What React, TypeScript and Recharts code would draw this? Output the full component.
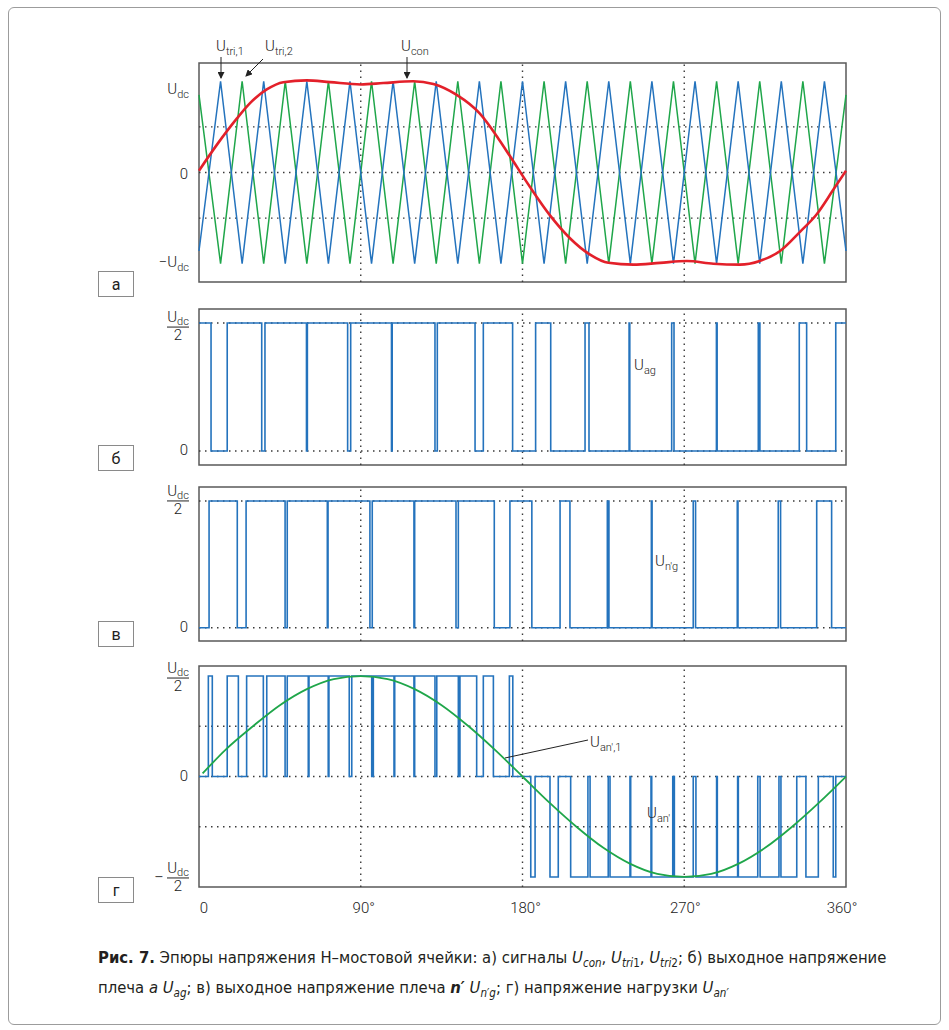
import React from 'react';
import { LineChart, Line, XAxis, YAxis, ReferenceLine, ReferenceArea } from 'recharts';

// x axis, degrees
const angleTicks = [0, 90, 180, 270, 360];
const angleLabels = ['0', '90°', '180°', '270°', '360°'];
const gridAngles = [90, 180, 270];

// panel a: carriers (vertices) and control signal
const triAngles = [0, 12, 24, 36, 48, 60, 72, 84, 96, 108, 120, 132, 144, 156, 168, 180, 192, 204, 216, 228, 240, 252, 264, 276, 288, 300, 312, 324, 336, 348, 360];
const uTri1 = [-0.86, 1, -1, 1, -1, 1, -1, 1, -1, 1, -1, 1, -1, 1, -1, 1, -1, 1, -1, 1, -1, 1, -1, 1, -1, 1, -1, 1, -1, 1, -0.86];
const uTri2 = [0.85, -1, 1, -1, 1, -1, 1, -1, 1, -1, 1, -1, 1, -1, 1, -1, 1, -1, 1, -1, 1, -1, 1, -1, 1, -1, 1, -1, 1, -1, 0.85];
const conAngles = [0, 9.8, 21, 28.4, 37.7, 46.9, 59.9, 72.9, 90, 102.5, 119.2, 130.4, 143.4, 156.3, 167, 173, 184.2, 195.3, 206.4, 217.6, 227.8, 241.7, 256.5, 271.4, 286.2, 301, 312, 323.3, 334.4, 343.6, 352.9, 360];
const uCon = [0.02, 0.3, 0.59, 0.76, 0.91, 0.99, 1.01, 0.99, 0.965, 0.98, 1.0, 0.97, 0.85, 0.645, 0.36, 0.18, -0.16, -0.47, -0.72, -0.9, -0.99, -1.01, -0.99, -0.97, -1.0, -1.01, -0.97, -0.86, -0.65, -0.46, -0.19, 0.02];

// panel б: U_ag switching edges (units of Udc/2)
const agEdges = [0, 6.7, 15.7, 34.9, 36.7, 59.8, 60.3, 82.7, 84.4, 107.1, 107.5, 131.3, 132.6, 153.6, 158.2, 174.5, 187.3, 195.7, 214.8, 217.0, 239.3, 239.7, 263.0, 264.3, 287.9, 288.3, 311.2, 312.1, 334.0, 338.1, 354.3, 360];
const agLevels = [1, 0, 1, 0, 1, 0, 1, 0, 1, 0, 1, 0, 1, 0, 1, 0, 1, 0, 1, 0, 1, 0, 1, 0, 1, 0, 1, 0, 1, 0, 1, 1];

// panel в: U_n'g
const ngEdges = [0, 5.6, 21.3, 26.2, 47.9, 49.1, 71.4, 71.8, 95.1, 96.4, 119.6, 120.0, 143.0, 144.3, 164.3, 173.0, 185.2, 200.9, 206.4, 227.2, 228.1, 251.7, 252.1, 275.0, 276.3, 299.5, 299.9, 322.3, 323.6, 343.7, 352.0, 360];
const ngLevels = [0, 1, 0, 1, 0, 1, 0, 1, 0, 1, 0, 1, 0, 1, 0, 1, 0, 1, 0, 1, 0, 1, 0, 1, 0, 1, 0, 1, 0, 1, 0, 0];

// panel г: U_an' and its fundamental
const anEdges = [0, 5.2, 7.4, 15.7, 21.9, 26.5, 35.8, 37.7, 47.9, 49.1, 60.8, 61.2, 71.9, 72.3, 83.6, 85.0, 96.1, 97.0, 108.5, 108.9, 119.6, 120.0, 131.3, 132.3, 144.3, 145.2, 154.5, 158.2, 163.8, 172.7, 174.6,
  184.6, 187.0, 195.3, 199.9, 206.8, 216.4, 217.6, 227.7, 228.7, 239.8, 240.2, 251.5, 251.9, 263.6, 264.5, 275.0, 276.5, 288.0, 288.4, 299.7, 300.1, 310.9, 312.2, 322.7, 323.8, 332.6, 337.7, 344.6, 352.9, 354.3, 360];
const anLevels = [0, 1, 0, 1, 0, 1, 0, 1, 0, 1, 0, 1, 0, 1, 0, 1, 0, 1, 0, 1, 0, 1, 0, 1, 0, 1, 0, 1, 0, 1, 0,
  -1, 0, -1, 0, -1, 0, -1, 0, -1, 0, -1, 0, -1, 0, -1, 0, -1, 0, -1, 0, -1, 0, -1, 0, -1, 0, -1, 0, -1, 0, 0];
const an1Angles = [2, 15, 30, 45, 60, 75, 90, 105, 120, 135, 150, 165, 180, 195, 210, 225, 240, 255, 270, 285, 300, 315, 330, 345, 360];
const uAn1 = [0.03, 0.27, 0.5, 0.71, 0.87, 0.97, 1.0, 0.97, 0.87, 0.71, 0.5, 0.26, 0.0, -0.26, -0.5, -0.71, -0.87, -0.97, -1.0, -0.97, -0.87, -0.71, -0.5, -0.26, 0.0];

const toPoints = (xs: number[], ys: number[]) => xs.map((a, i) => ({ a, v: ys[i] }));

const BLUE = '#2473bd';
const GREEN = '#1fa64a';
const RED = '#e3202a';
const GRID = '#3a3a3a';
const FONT = 'Roboto, "Liberation Sans", Arial, sans-serif';
const lbl: React.CSSProperties = { fontFamily: FONT, fontSize: 15, fontWeight: 300, fill: '#222' };

const PLOT_LEFT = 199;
const PLOT_W = 647;
const AXIS_W = 60;
const M_TOP = 16;
const M_RIGHT = 14;

// y tick renderers (chart x 50 == page x 189)
const TickA = ({ y, payload }: any) => {
  const v = payload.value;
  if (v === 0) return <text x={49} y={y + 6} textAnchor="end" style={lbl}>0</text>;
  return (
    <text x={50} y={v > 0 ? y + 13 : y + 3} textAnchor="end" style={lbl}>
      {v < 0 ? '−' : ''}U<tspan fontSize={11} dy={4}>dc</tspan>
    </text>
  );
};

const Fraction = ({ y, lineDy, neg }: { y: number; lineDy: number; neg?: boolean }) => {
  const ly = y + lineDy;
  return (
    <g>
      {neg && <text x={25} y={ly + 5} textAnchor="end" style={{ ...lbl, fontSize: 17 }}>−</text>}
      <text x={39} y={ly - 5} textAnchor="middle" style={lbl}>
        U<tspan fontSize={11} dy={3}>dc</tspan>
      </text>
      <line x1={28} x2={50} y1={ly} y2={ly} stroke="#222" strokeWidth={1} />
      <text x={39} y={ly + 13} textAnchor="middle" style={lbl}>2</text>
    </g>
  );
};

const makeHalfTick = (lineDy: number) => ({ y, payload }: any) => {
  if (payload.value === 0) return <text x={49} y={y + 4} textAnchor="end" style={lbl}>0</text>;
  return <Fraction y={y} lineDy={lineDy} />;
};

const TickG = ({ y, payload }: any) => {
  const v = payload.value;
  if (v === 0) return <text x={49} y={y + 4} textAnchor="end" style={lbl}>0</text>;
  return <Fraction y={y} lineDy={v > 0 ? 2 : 1} neg={v < 0} />;
};

const makeXTick = (baseY: number) => ({ x, payload }: any) => {
  const i = angleTicks.indexOf(payload.value);
  const dx = [5, 3, 3, 1, -4][i];
  return <text x={x + dx} y={baseY} textAnchor="middle" style={lbl}>{angleLabels[i]}</text>;
};

interface PanelProps {
  top: number;
  height: number;
  domain: [number, number];
  hLines: number[];
  yTicks: number[];
  tick: any;
  showX?: boolean;
  children?: React.ReactNode;
}

const Panel: React.FC<PanelProps> = ({ top, height, domain, hLines, yTicks, tick, showX = false, children }) => {
  const xh = showX ? 32 : 0;
  return (
    <div style={{ position: 'absolute', left: PLOT_LEFT - AXIS_W, top: top - M_TOP }}>
      <LineChart
        width={AXIS_W + PLOT_W + M_RIGHT}
        height={height + M_TOP + 2 + xh}
        margin={{ top: M_TOP, right: M_RIGHT, bottom: 2, left: 0 }}
      >
        <XAxis
          type="number"
          dataKey="a"
          domain={[0, 360]}
          ticks={angleTicks}
          interval={0}
          hide={!showX}
          height={xh}
          axisLine={false}
          tickLine={false}
          tick={makeXTick(M_TOP + height + 26)}
        />
        <YAxis
          type="number"
          domain={domain}
          ticks={yTicks}
          interval={0}
          width={AXIS_W}
          axisLine={false}
          tickLine={false}
          tick={tick}
        />
        {hLines.map((v) => (
          <ReferenceLine key={'h' + v} y={v} stroke={GRID} strokeWidth={1.4} strokeDasharray="1.5 4.5" />
        ))}
        {gridAngles.map((a) => (
          <ReferenceLine key={'v' + a} x={a} stroke={GRID} strokeWidth={1.4} strokeDasharray="1.5 4.5" />
        ))}
        {children}
        <ReferenceArea x1={0} x2={360} y1={domain[0]} y2={domain[1]} fill="none" fillOpacity={0} stroke="#595959" strokeWidth={1.5} />
      </LineChart>
    </div>
  );
};

const LetterBox = ({ top, letter }: { top: number; letter: string }) => (
  <div
    style={{
      position: 'absolute', left: 98, top, width: 34, height: 24, border: '1px solid #8a8a8a',
      display: 'flex', alignItems: 'center', justifyContent: 'center',
      fontFamily: FONT, fontSize: 16, color: '#222',
    }}
  >
    {letter}
  </div>
);

const Arrow = ({ x1, y1, x2, y2 }: { x1: number; y1: number; x2: number; y2: number }) => (
  <line x1={x1} y1={y1} x2={x2} y2={y2} stroke="#222" strokeWidth={1} markerEnd="url(#ah)" />
);

const Label = ({ x, y, sub }: { x: number; y: number; sub: string }) => (
  <text x={x} y={y} style={lbl}>
    U<tspan fontSize={11} dy={4}>{sub}</tspan>
  </text>
);

const sub: React.CSSProperties = { fontSize: '0.7em', verticalAlign: '-0.35em', lineHeight: 0 };

export default function App() {
  return (
    <div style={{ position: 'absolute', left: 0, top: 0, width: 949, height: 1030, background: '#fff' }}>
      <div style={{ position: 'absolute', left: 8, top: 7, width: 931, height: 1016, border: '1px solid #9c9c9c', borderRadius: 6 }} />

      <Panel top={63} height={219} domain={[-1.2, 1.2]} hLines={[0.5, 0, -0.5]} yTicks={[1, 0, -1]} tick={TickA}>
        <Line data={toPoints(triAngles, uTri2)} dataKey="v" type="linear" stroke={GREEN} strokeWidth={1.5} dot={false} isAnimationActive={false} />
        <Line data={toPoints(triAngles, uTri1)} dataKey="v" type="linear" stroke={BLUE} strokeWidth={1.5} dot={false} isAnimationActive={false} />
        <Line data={toPoints(conAngles, uCon)} dataKey="v" type="monotone" stroke={RED} strokeWidth={2.6} dot={false} isAnimationActive={false} />
      </Panel>

      <Panel top={309} height={156} domain={[-0.11, 1.11]} hLines={[1, 0]} yTicks={[1, 0]} tick={makeHalfTick(4)}>
        <Line data={toPoints(agEdges, agLevels)} dataKey="v" type="stepAfter" stroke={BLUE} strokeWidth={1.6} dot={false} isAnimationActive={false} />
      </Panel>

      <Panel top={487} height={154} domain={[-0.105, 1.11]} hLines={[1, 0]} yTicks={[1, 0]} tick={makeHalfTick(0)}>
        <Line data={toPoints(ngEdges, ngLevels)} dataKey="v" type="stepAfter" stroke={BLUE} strokeWidth={1.6} dot={false} isAnimationActive={false} />
      </Panel>

      <Panel top={666} height={221} domain={[-1.1, 1.1]} hLines={[0.5, 0, -0.5]} yTicks={[1, 0, -1]} tick={TickG} showX>
        <Line data={toPoints(anEdges, anLevels)} dataKey="v" type="stepAfter" stroke={BLUE} strokeWidth={1.6} dot={false} isAnimationActive={false} />
        <Line data={toPoints(an1Angles, uAn1)} dataKey="v" type="monotone" stroke={GREEN} strokeWidth={1.8} dot={false} isAnimationActive={false} />
      </Panel>

      <svg width={949} height={1030} style={{ position: 'absolute', left: 0, top: 0, pointerEvents: 'none' }}>
        <defs>
          <marker id="ah" markerWidth="7" markerHeight="7" refX="6" refY="3.5" orient="auto" markerUnits="userSpaceOnUse">
            <path d="M0,0 L7,3.5 L0,7 Z" fill="#222" />
          </marker>
        </defs>
        <Label x={216} y={51} sub="tri,1" />
        <Label x={265} y={51} sub="tri,2" />
        <Label x={401} y={51} sub="con" />
        <Arrow x1={221} y1={57} x2={221} y2={78} />
        <Arrow x1={263} y1={59} x2={246} y2={76} />
        <Arrow x1={407} y1={57} x2={407} y2={78} />
        <Label x={634} y={370} sub="ag" />
        <Label x={655} y={566} sub="n′g" />
        <Label x={590} y={747} sub="an′,1" />
        <line x1={505} y1={758} x2={588} y2={740} stroke="#222" strokeWidth={1} />
        <Label x={647} y={818} sub="an′" />
      </svg>

      <LetterBox top={271} letter="а" />
      <LetterBox top={445} letter="б" />
      <LetterBox top={621} letter="в" />
      <LetterBox top={877} letter="г" />

      <div
        style={{
          position: 'absolute', left: 98, top: 943, whiteSpace: 'nowrap',
          fontFamily: '"Liberation Sans Narrow", "DejaVu Sans Condensed", Roboto, sans-serif',
          fontStretch: 'condensed', fontSize: 16.5, lineHeight: '30px', color: '#231f20',
        }}
      >
        <b>Рис. 7.</b> Эпюры напряжения Н–мостовой ячейки: а) сигналы <i>U<span style={sub}>con</span></i>,{' '}
        <i>U<span style={sub}>tri</span></i><span style={sub}>1</span>, <i>U<span style={sub}>tri</span></i>
        <span style={sub}>2</span>; б) выходное напряжение
        <br />
        плеча <i>а U<span style={sub}>ag</span></i>; в) выходное напряжение плеча <i><b>n′</b> U<span style={sub}>n′g</span></i>;
        г) напряжение нагрузки <i>U<span style={sub}>an′</span></i>
      </div>
    </div>
  );
}
